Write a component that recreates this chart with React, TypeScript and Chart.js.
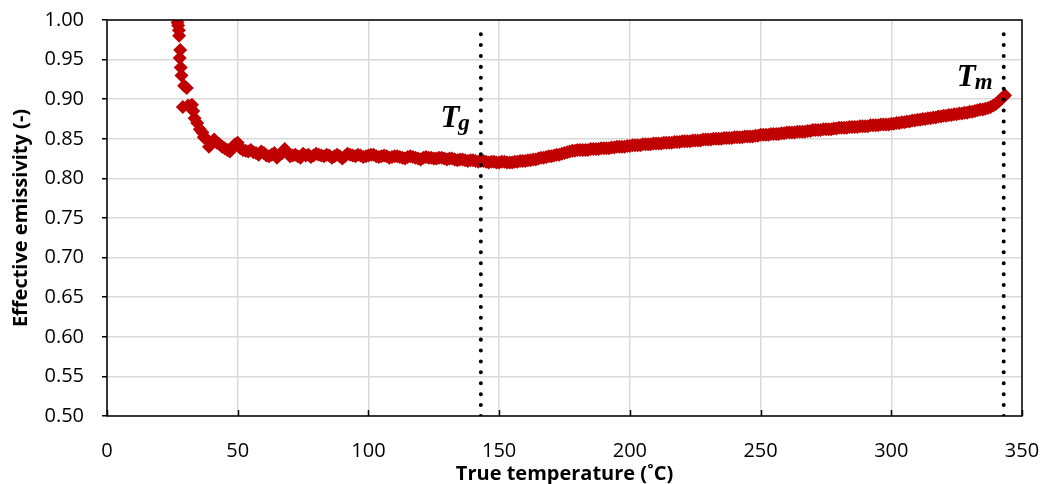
import React, { useEffect, useRef } from "react";
import { Chart, registerables } from "chart.js";

Chart.register(...registerables);

const temps: number[] = [
  27.0, 27.2, 27.5, 27.6, 28.0, 27.8, 28.2, 28.5, 29.5, 30.5, 29.0, 31.0, 32.5, 33.0, 33.5, 34.5, 35.5, 36.5, 37.0, 38.0,
  39.0, 40.0, 41.0, 42.0, 43.0, 44.0, 45.0, 46.0, 47.0, 48.0, 49.0,
  50, 51, 52, 53, 54, 55, 56, 57, 58, 59, 60,
  61, 62, 63, 64, 65, 66, 67, 68, 69, 70,
  71, 72, 73, 74, 75, 76, 77, 78, 79, 80,
  81, 82, 83, 84, 85, 86, 87, 88, 89, 90,
  91, 92, 93, 94, 95, 96, 97, 98, 99, 100,
  101, 102, 103, 104, 105, 106, 107, 108, 109, 110,
  111, 112, 113, 114, 115, 116, 117, 118, 119, 120,
  121, 122, 123, 124, 125, 126, 127, 128, 129, 130,
  131, 132, 133, 134, 135, 136, 137, 138, 139, 140,
  141, 142, 143, 144, 145, 146, 147, 148, 149, 150,
  151, 152, 153, 154, 155, 156, 157, 158, 159, 160,
  161, 162, 163, 164, 165, 166, 167, 168, 169, 170,
  171, 172, 173, 174, 175, 176, 177, 178, 179, 180,
  181, 182, 183, 184, 185, 186, 187, 188, 189, 190,
  191, 192, 193, 194, 195, 196, 197, 198, 199, 200,
  201, 202, 203, 204, 205, 206, 207, 208, 209, 210,
  211, 212, 213, 214, 215, 216, 217, 218, 219, 220,
  221, 222, 223, 224, 225, 226, 227, 228, 229, 230,
  231, 232, 233, 234, 235, 236, 237, 238, 239, 240,
  241, 242, 243, 244, 245, 246, 247, 248, 249, 250,
  251, 252, 253, 254, 255, 256, 257, 258, 259, 260,
  261, 262, 263, 264, 265, 266, 267, 268, 269, 270,
  271, 272, 273, 274, 275, 276, 277, 278, 279, 280,
  281, 282, 283, 284, 285, 286, 287, 288, 289, 290,
  291, 292, 293, 294, 295, 296, 297, 298, 299, 300,
  301, 302, 303, 304, 305, 306, 307, 308, 309, 310,
  311, 312, 313, 314, 315, 316, 317, 318, 319, 320,
  321, 322, 323, 324, 325, 326, 327, 328, 329, 330,
  331, 332, 333, 334, 335, 336, 337, 338, 339, 340,
  341, 342, 343, 343.5,
];

const emissivity: number[] = [
  0.997, 0.993, 0.987, 0.980, 0.962, 0.952, 0.940, 0.930, 0.917, 0.914, 0.890, 0.892, 0.893, 0.885, 0.876, 0.870, 0.862, 0.858, 0.852, 0.850,
  0.840, 0.845, 0.849, 0.845, 0.843, 0.840, 0.838, 0.836, 0.834, 0.840, 0.843,
  0.845, 0.838, 0.836, 0.835, 0.834, 0.836, 0.833, 0.832, 0.830, 0.834, 0.832,
  0.829, 0.828, 0.830, 0.832, 0.826, 0.830, 0.832, 0.837, 0.833, 0.828,
  0.829, 0.830, 0.828, 0.826, 0.831, 0.829, 0.830, 0.827, 0.829, 0.831,
  0.830, 0.829, 0.828, 0.830, 0.829, 0.826, 0.828, 0.830, 0.828, 0.825,
  0.828, 0.831, 0.830, 0.829, 0.828, 0.830, 0.829, 0.827, 0.828, 0.829,
  0.830, 0.830, 0.828, 0.827, 0.828, 0.829, 0.828, 0.826, 0.827, 0.828,
  0.828, 0.827, 0.826, 0.825, 0.827, 0.828, 0.827, 0.826, 0.825, 0.824,
  0.826, 0.827, 0.826, 0.826, 0.825, 0.825, 0.826, 0.826, 0.825, 0.824,
  0.825, 0.825, 0.824, 0.823, 0.824, 0.824, 0.823, 0.822, 0.823, 0.823,
  0.822, 0.821, 0.822, 0.822, 0.821, 0.820, 0.821, 0.821, 0.820, 0.820,
  0.821, 0.821, 0.820, 0.820, 0.820, 0.821, 0.821, 0.822, 0.822, 0.822,
  0.823, 0.823, 0.824, 0.824, 0.825, 0.826, 0.826, 0.827, 0.828, 0.828,
  0.829, 0.830, 0.830, 0.831, 0.832, 0.833, 0.834, 0.835, 0.835, 0.836,
  0.836, 0.836, 0.836, 0.836, 0.837, 0.837, 0.837, 0.837, 0.838, 0.838,
  0.838, 0.838, 0.839, 0.839, 0.840, 0.840, 0.840, 0.840, 0.841, 0.841,
  0.842, 0.842, 0.842, 0.842, 0.843, 0.843, 0.843, 0.843, 0.844, 0.844,
  0.844, 0.844, 0.845, 0.845, 0.845, 0.845, 0.846, 0.846, 0.846, 0.847,
  0.847, 0.847, 0.847, 0.848, 0.848, 0.848, 0.848, 0.849, 0.849, 0.849,
  0.849, 0.850, 0.850, 0.850, 0.850, 0.851, 0.851, 0.851, 0.851, 0.852,
  0.852, 0.852, 0.852, 0.853, 0.853, 0.853, 0.853, 0.854, 0.854, 0.855,
  0.855, 0.855, 0.855, 0.856, 0.856, 0.856, 0.856, 0.857, 0.857, 0.858,
  0.858, 0.858, 0.858, 0.859, 0.859, 0.859, 0.859, 0.860, 0.860, 0.861,
  0.861, 0.861, 0.861, 0.862, 0.862, 0.862, 0.862, 0.863, 0.863, 0.864,
  0.864, 0.864, 0.864, 0.865, 0.865, 0.865, 0.865, 0.866, 0.866, 0.866,
  0.866, 0.867, 0.867, 0.867, 0.867, 0.868, 0.868, 0.868, 0.868, 0.869,
  0.869, 0.870, 0.870, 0.871, 0.871, 0.872, 0.872, 0.873, 0.873, 0.874,
  0.874, 0.875, 0.875, 0.876, 0.876, 0.877, 0.877, 0.878, 0.878, 0.879,
  0.879, 0.880, 0.880, 0.881, 0.881, 0.882, 0.882, 0.883, 0.883, 0.884,
  0.884, 0.885, 0.886, 0.887, 0.887, 0.888, 0.889, 0.890, 0.892, 0.894,
  0.897, 0.900, 0.903, 0.905,
];

const xTicks: number[] = [0, 50, 100, 150, 200, 250, 300, 350];
const yTicks: number[] = [0.5, 0.55, 0.6, 0.65, 0.7, 0.75, 0.8, 0.85, 0.9, 0.95, 1.0];

const TG = 143;
const TM = 343;
const markers = [
  { temp: TG, main: "T", sub: "g", labelY: 0.865 },
  { temp: TM, main: "T", sub: "m", labelY: 0.917 },
];

const xTitle = "True temperature (˚C)";
const yTitle = "Effective emissivity (-)";

const TICK_FONT = "'Open Sans', 'Noto Sans', sans-serif";

export default function App() {
  const canvasRef = useRef<HTMLCanvasElement | null>(null);

  useEffect(() => {
    if (!canvasRef.current) return;

    const framePlugin = {
      id: "frameAndLabels",
      afterDraw(chart: any) {
        const { ctx, chartArea, scales } = chart;
        const xs = scales.x;
        ctx.save();
        ctx.strokeStyle = "#000";
        ctx.lineWidth = 1.5;
        ctx.strokeRect(chartArea.left, chartArea.top, chartArea.right - chartArea.left, chartArea.bottom - chartArea.top);
        for (const t of xTicks) {
          const px = Math.round(xs.getPixelForValue(t)) + 0.5;
          ctx.beginPath();
          ctx.moveTo(px, chartArea.bottom);
          ctx.lineTo(px, chartArea.bottom - 6);
          ctx.stroke();
        }
        ctx.fillStyle = "#000";
        ctx.textBaseline = "alphabetic";
        ctx.textAlign = "left";
        for (const m of markers) {
          const lx = xs.getPixelForValue(m.temp);
          const ly = scales.y.getPixelForValue(m.labelY);
          ctx.font = "italic bold 31px 'Liberation Serif', serif";
          const tw = ctx.measureText(m.main).width;
          ctx.font = "italic bold 23px 'Liberation Serif', serif";
          const sw = ctx.measureText(m.sub).width;
          const start = lx - 10 - tw - sw;
          ctx.font = "italic bold 31px 'Liberation Serif', serif";
          ctx.fillText(m.main, start, ly);
          ctx.font = "italic bold 23px 'Liberation Serif', serif";
          ctx.fillText(m.sub, start + tw - 1, ly + 3);
        }
        ctx.restore();
      },
    };

    const zeroPad = (scale: any) => {
      scale.paddingTop = 0;
      scale.paddingBottom = 0;
      scale.paddingLeft = 0;
      scale.paddingRight = 0;
    };

    const chart = new Chart(canvasRef.current, {
      type: "scatter",
      data: {
        datasets: [
          {
            label: "Emissivity",
            data: temps.map((t, i) => ({ x: t, y: emissivity[i] })),
            pointStyle: "rectRot",
            pointRadius: 7,
            backgroundColor: "#C00000",
            borderColor: "#C00000",
            borderWidth: 0,
            showLine: false,
            order: 2,
          },
          ...markers.map((m) => ({
            label: m.main + m.sub,
            data: [
              { x: m.temp, y: 0.5 },
              { x: m.temp, y: 0.995 },
            ],
            showLine: true,
            pointRadius: 0,
            borderColor: "#000",
            borderWidth: 4,
            borderDash: [0.01, 10.9],
            borderCapStyle: "round" as const,
            order: 1,
          })),
        ],
      },
      options: {
        animation: false,
        responsive: false,
        maintainAspectRatio: false,
        layout: { padding: { top: 20, right: 21, left: 0, bottom: 0 } },
        plugins: {
          legend: { display: false },
          tooltip: { enabled: false },
        },
        scales: {
          x: {
            type: "linear",
            min: 0,
            max: 350,
            afterBuildTicks(scale: any) {
              scale.ticks = xTicks.map((v) => ({ value: v }));
            },
            afterFit(scale: any) {
              scale.height = 68;
              zeroPad(scale);
            },
            grid: { color: "#d9d9d9", lineWidth: 1.5, drawTicks: false },
            border: { display: false },
            ticks: {
              color: "#000",
              padding: 23,
              font: { family: TICK_FONT, size: 20 },
              maxRotation: 0,
            },
            title: {
              display: true,
              text: xTitle,
              color: "#000",
              font: { family: TICK_FONT, size: 20, weight: "bold" },
              padding: { top: 0, bottom: -2 },
            },
          },
          y: {
            type: "linear",
            min: 0.5,
            max: 1.0,
            afterBuildTicks(scale: any) {
              scale.ticks = yTicks.map((v) => ({ value: v }));
            },
            afterFit(scale: any) {
              scale.width = 107;
              zeroPad(scale);
            },
            grid: { color: "#d9d9d9", lineWidth: 1.5, drawTicks: true, tickLength: 5, tickColor: "#000" },
            border: { display: false },
            ticks: {
              color: "#000",
              padding: 18,
              font: { family: TICK_FONT, size: 20 },
              callback: (v: any) => Number(v).toFixed(2),
            },
            title: {
              display: true,
              text: yTitle,
              color: "#000",
              font: { family: TICK_FONT, size: 20, weight: "bold" },
              padding: { top: 9, bottom: 0 },
            },
          },
        },
      },
      plugins: [framePlugin],
    } as any);

    return () => chart.destroy();
  }, []);

  return (
    <div style={{ position: "absolute", left: 0, top: 0, width: 1043, height: 484, background: "#fff" }}>
      <canvas ref={canvasRef} width={1043} height={484} style={{ width: 1043, height: 484 }} />
    </div>
  );
}
